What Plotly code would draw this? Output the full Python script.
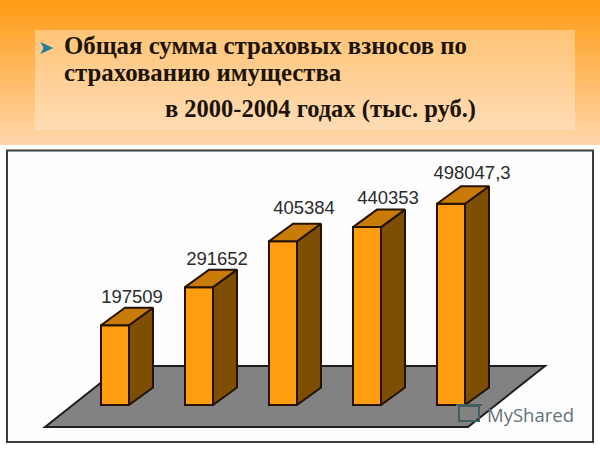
import plotly.graph_objects as go

years = ["2000", "2001", "2002", "2003", "2004"]
values = [197509, 291652, 405384, 440353, 498047.3]
labels = ["197509", "291652", "405384", "440353", "498047,3"]
title_lines = ["Общая сумма страховых взносов по", "страхованию имущества", "в 2000-2004 годах (тыс. руб.)"]

W, H = 600, 449
PX_PER_CAT = 84.0
PX_PER_VAL = 0.000404
X0_PX, BASE_PX = 115.0, 405.0


def ux(px):
    return px / PX_PER_CAT


def uy(px):
    return px / PX_PER_VAL


def paper_x(px):
    return px / W


def paper_y(py):
    return 1 - py / H


half = ux(14)
dx, dy = ux(24), uy(17.5)
idx = list(range(len(values)))

FRONT, SIDE, TOP, EDGE = "#FF9C10", "#7E4E02", "#C87B06", "#241200"
LW = 2

fig = go.Figure()

# front faces
fig.add_trace(go.Bar(x=idx, y=values, width=2 * half, marker=dict(color=FRONT, line=dict(color=EDGE, width=LW)),
                     hoverinfo="y", showlegend=False))

# side and top faces, derived from the values
for i, v in zip(idx, values):
    r = i + half
    l = i - half
    fig.add_trace(go.Scatter(x=[r, r + dx, r + dx, r, r], y=[0, dy, v + dy, v, 0], mode="lines", fill="toself",
                             fillcolor=SIDE, line=dict(color=EDGE, width=LW), hoverinfo="skip", showlegend=False))
    fig.add_trace(go.Scatter(x=[l, l + dx, r + dx, r, l], y=[v, v + dy, v + dy, v, v], mode="lines", fill="toself",
                             fillcolor=TOP, line=dict(color=EDGE, width=LW), hoverinfo="skip", showlegend=False))

# value labels
label_dx = [ux(17), ux(18), ux(21), ux(21), ux(21)]
label_dy = [uy(27), uy(27), uy(32), uy(28), uy(29)]
fig.add_trace(go.Scatter(x=[i + d for i, d in zip(idx, label_dx)], y=[v + d for v, d in zip(values, label_dy)],
                         mode="text", text=labels, textposition="middle center",
                         textfont=dict(family="Liberation Sans", size=18.5, color="#2b2b2b"),
                         hoverinfo="skip", showlegend=False))

shapes = []
# orange gradient behind the heading
top_c, bot_c = (255, 155, 20), (255, 214, 170)
steps = 48
for k in range(steps):
    t = k / (steps - 1)
    c = [round(a + (b - a) * t) for a, b in zip(top_c, bot_c)]
    shapes.append(dict(type="rect", xref="paper", yref="paper", layer="below", x0=0, x1=1,
                       y0=paper_y(k * 3), y1=paper_y((k + 1) * 3 + 1), line=dict(width=0),
                       fillcolor=f"rgb({c[0]},{c[1]},{c[2]})"))
# heading panel
shapes.append(dict(type="rect", xref="paper", yref="paper", layer="below", x0=paper_x(35), x1=paper_x(575),
                   y0=paper_y(30), y1=paper_y(130), line=dict(width=0), fillcolor="rgba(255,235,215,0.42)"))
# chart frame
shapes.append(dict(type="rect", xref="paper", yref="paper", layer="below", x0=paper_x(7), x1=paper_x(593),
                   y0=paper_y(150.5), y1=paper_y(442), line=dict(color="#3c3c3c", width=2), fillcolor="#FDFDFD"))
# floor
fl = [(ux(45 - 115), -uy(22)), (ux(122 - 115), uy(39)), (ux(545 - 115), uy(39)), (ux(468 - 115), -uy(22))]
path = "M " + " L ".join(f"{a},{b}" for a, b in fl) + " Z"
shapes.append(dict(type="path", xref="x", yref="y", layer="below", path=path, fillcolor="#828282",
                   line=dict(color="#1e1e1e", width=LW)))

anns = []
for text, x, y, anchor, size in [(title_lines[0], 62, 45.5, "left", 24.8), (title_lines[1], 62, 72, "left", 24.8),
                                 (title_lines[2], 478, 109, "right", 24.5)]:
    anns.append(dict(text=f"<b>{text}</b>", xref="paper", yref="paper", x=paper_x(x), y=paper_y(y), xanchor=anchor,
                     yanchor="middle", showarrow=False, font=dict(family="Liberation Serif", size=size, color="#1c1408")))
anns.append(dict(text="➤", xref="paper", yref="paper", x=paper_x(46), y=paper_y(47), xanchor="center", yanchor="middle",
                 showarrow=False, font=dict(family="DejaVu Sans", size=19, color="#1F7FA0")))
anns.append(dict(text="MyShared", xref="paper", yref="paper", x=paper_x(485), y=paper_y(414), xanchor="left",
                 yanchor="middle", showarrow=False, font=dict(family="Open Sans", size=18.5, color="#5f7478")))
# watermark icon
icon = "#3f5f63"
shapes.append(dict(type="rect", xref="paper", yref="paper", x0=paper_x(459), x1=paper_x(479), y0=paper_y(406),
                   y1=paper_y(421), line=dict(color=icon, width=2), fillcolor="rgba(0,0,0,0)"))
shapes.append(dict(type="line", xref="paper", yref="paper", x0=paper_x(456), x1=paper_x(482), y0=paper_y(405),
                   y1=paper_y(405), line=dict(color=icon, width=2)))

fig.update_layout(
    width=W, height=H, margin=dict(l=0, r=0, t=0, b=0), autosize=False,
    paper_bgcolor="#FFFFFF", plot_bgcolor="rgba(0,0,0,0)", shapes=shapes, annotations=anns, showlegend=False,
    xaxis=dict(range=[ux(-X0_PX), ux(W - X0_PX)], visible=False, fixedrange=True),
    yaxis=dict(range=[uy(BASE_PX - H), uy(BASE_PX)], visible=False, fixedrange=True),
)
fig.write_html("out.html", config={"displayModeBar": False},
               post_script="document.body.style.margin='0';document.documentElement.style.overflow='hidden';")
